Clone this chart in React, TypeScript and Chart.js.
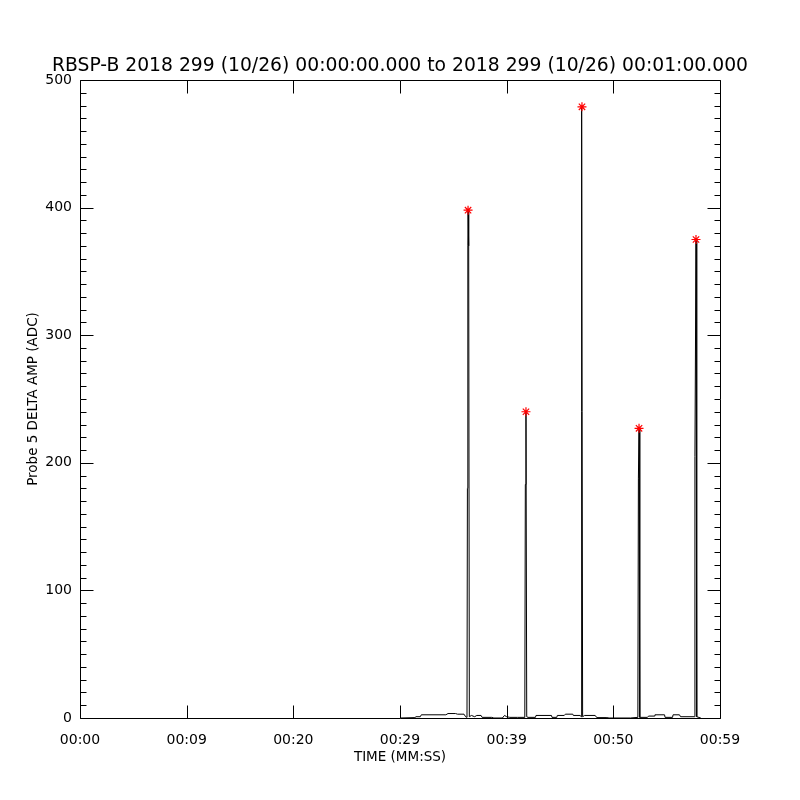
import React, { useEffect, useRef } from "react";
import { Chart, registerables } from "chart.js";

Chart.register(...registerables);

const TITLE = "RBSP-B 2018 299 (10/26) 00:00:00.000 to 2018 299 (10/26) 00:01:00.000";
const X_TITLE = "TIME (MM:SS)";
const Y_TITLE = "Probe 5 DELTA AMP (ADC)";
const X_TICK_LABELS = ["00:00", "00:09", "00:20", "00:29", "00:39", "00:50", "00:59"];

const TIME_S = [
  30.0, 31.4, 31.5, 31.9, 32.0, 34.3, 34.5, 35.2, 35.4, 36.0, 36.15, 36.28, 36.32, 36.36, 36.38, 36.44, 36.5,
  36.7, 37.0, 37.2, 37.6, 37.7, 38.6, 38.8, 39.6, 39.8, 40.0, 40.3, 41.0, 41.7, 41.75, 41.81, 41.88, 42.0,
  42.7, 42.75, 44.2, 44.25, 44.7, 44.75, 45.4, 45.5, 46.2, 46.25, 46.9, 46.97, 47.0, 47.06, 47.12, 47.3,
  48.3, 48.45, 49.4, 49.6, 51.6, 52.3, 52.35, 52.41, 52.48, 53.2, 53.3, 53.85, 53.9, 54.8, 54.85, 55.55,
  55.6, 56.2, 56.3, 57.6, 57.65, 57.75, 57.82, 58.2,
];
const AMP = [
  0, 0.3, 1, 1, 2.5, 2.5, 3.5, 3.5, 3, 3, 1, 0.5, 180, 370, 398, 370, 1,
  2, 1, 2, 2, 0.5, 0.5, 0, 0, 2, 1, 0.5, 0.5, 0.5, 183, 240, 1, 0.5,
  0.5, 2, 2, 0.5, 0.5, 2, 2, 3, 3, 2, 2, 1, 310, 479, 1, 2,
  2, 0.3, 0.3, 0, 0, 0.5, 188, 227, 0.5, 0.5, 1.5, 1.5, 2.5, 2.5, 0.5, 0.5,
  2.5, 2.5, 1, 1, 205, 375, 1, 0,
];

const PEAK_TIME_S = [36.38, 41.81, 47.06, 52.41, 57.75];
const PEAK_AMP = [398, 240, 479, 227, 375];

const X_MAJOR = [0, 10, 20, 30, 40, 50, 60];
const Y_MAJOR = [0, 100, 200, 300, 400, 500];
const Y_MINOR_STEP = 10;

const FONT = "DejaVu Sans";

const framePlugin = {
  id: "idlFrame",
  afterDatasetsDraw(chart: any) {
    const { ctx, chartArea: a, scales } = chart;
    const L = Math.round(a.left) + 0.5;
    const R = Math.round(a.right) + 0.5;
    const T = Math.round(a.top) + 0.5;
    const B = Math.round(a.bottom) + 0.5;
    ctx.save();
    ctx.strokeStyle = "#000";
    ctx.lineWidth = 1;
    ctx.beginPath();
    ctx.rect(L, T, R - L, B - T);
    const major = 13;
    const minor = 6;
    for (const v of X_MAJOR) {
      const px = Math.round(scales.x.getPixelForValue(v)) + 0.5;
      ctx.moveTo(px, B);
      ctx.lineTo(px, B - major);
      ctx.moveTo(px, T);
      ctx.lineTo(px, T + major);
    }
    const yMin = Y_MAJOR[0];
    const yMax = Y_MAJOR[Y_MAJOR.length - 1];
    for (let v = yMin; v <= yMax; v += Y_MINOR_STEP) {
      const py = Math.round(scales.y.getPixelForValue(v)) + 0.5;
      const len = v % 100 === 0 ? major : minor;
      ctx.moveTo(L, py);
      ctx.lineTo(L + len, py);
      ctx.moveTo(R, py);
      ctx.lineTo(R - len, py);
    }
    ctx.stroke();
    ctx.restore();
  },
};

export default function App() {
  const ref = useRef<HTMLCanvasElement>(null);
  useEffect(() => {
    const lineData = TIME_S.map((t, i) => ({ x: t, y: AMP[i] }));
    const peakData = PEAK_TIME_S.map((t, i) => ({ x: t, y: PEAK_AMP[i] }));
    const chart = new Chart(ref.current!, {
      type: "scatter",
      data: {
        datasets: [
          {
            data: peakData,
            showLine: false,
            pointStyle: "star",
            pointRadius: 4.5,
            pointBorderColor: "#ff0000",
            pointBackgroundColor: "#ff0000",
            pointBorderWidth: 1.2,
            order: 0,
          } as any,
          {
            data: lineData,
            showLine: true,
            borderColor: "#000",
            borderWidth: 1,
            pointRadius: 0,
            tension: 0,
            order: 1,
          } as any,
        ],
      },
      plugins: [framePlugin],
      options: {
        responsive: false,
        animation: false,
        devicePixelRatio: 1,
        layout: { padding: 0 },
        plugins: {
          legend: { display: false },
          tooltip: { enabled: false },
          title: {
            display: true,
            text: TITLE,
            color: "#000",
            font: { family: FONT, size: 18.75, weight: "normal" },
            padding: { top: 55, bottom: 2.5 },
          },
        },
        scales: {
          x: {
            type: "linear",
            min: 0,
            max: 60,
            grid: { display: false, drawTicks: false },
            border: { display: false },
            ticks: {
              stepSize: 10,
              padding: 14,
              color: "#000",
              autoSkip: false,
              maxRotation: 0,
              font: { family: FONT, size: 14 },
              callback: (v: any) => X_TICK_LABELS[Math.round(Number(v) / 10)] ?? "",
            },
            title: {
              display: true,
              text: X_TITLE,
              color: "#000",
              font: { family: FONT, size: 13.5 },
              padding: { top: 0, bottom: 34 },
            },
            afterFit: (s: any) => {
              s.height = 82;
            },
          },
          y: {
            type: "linear",
            position: "left",
            min: 0,
            max: 500,
            grid: { display: false, drawTicks: false },
            border: { display: false },
            ticks: {
              stepSize: 100,
              padding: 8,
              color: "#000",
              font: { family: FONT, size: 14 },
            },
            title: {
              display: true,
              text: Y_TITLE,
              color: "#000",
              font: { family: FONT, size: 13.5 },
              padding: { top: 25, bottom: 0 },
            },
            afterFit: (s: any) => {
              s.width = 80;
            },
          },
          yRight: {
            type: "linear",
            position: "right",
            min: 0,
            max: 500,
            grid: { display: false, drawTicks: false },
            border: { display: false },
            ticks: { display: false },
            title: { display: false },
            afterFit: (s: any) => {
              s.width = 80;
            },
          },
        },
      } as any,
    });
    return () => chart.destroy();
  }, []);
  return (
    <div style={{ position: "absolute", left: 0, top: 0, width: 800, height: 800, background: "#fff" }}>
      <canvas ref={ref} width={800} height={800} style={{ display: "block" }} />
    </div>
  );
}
